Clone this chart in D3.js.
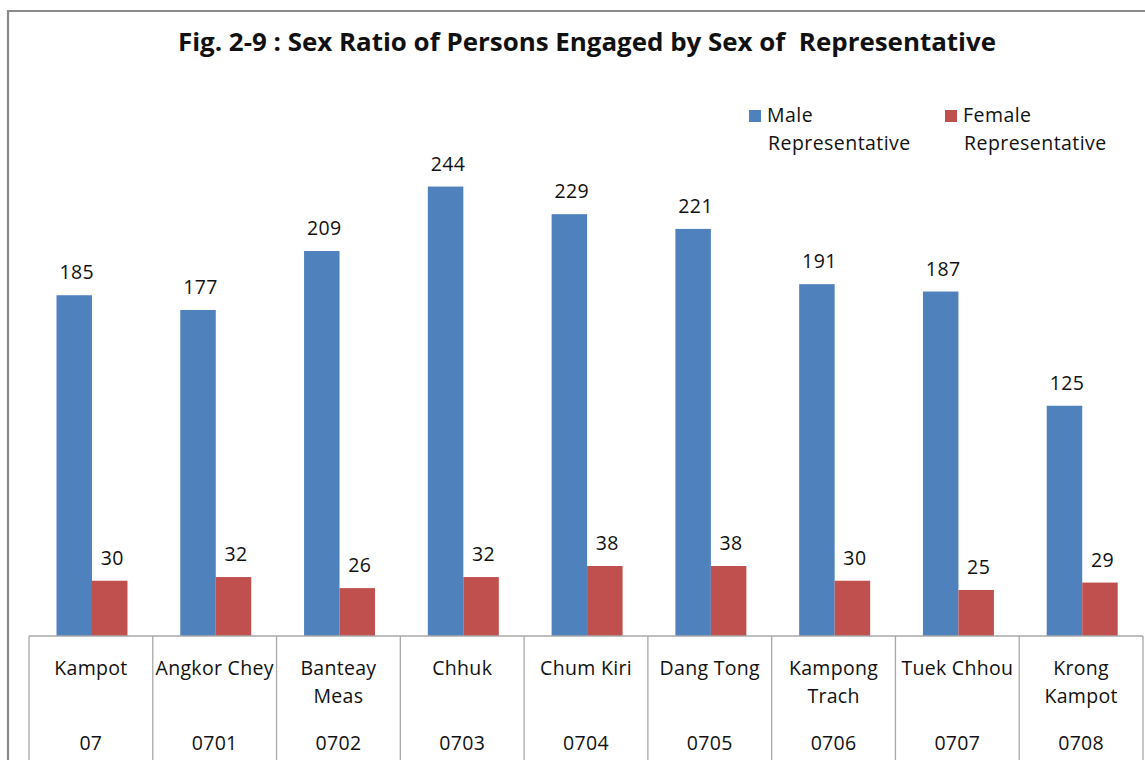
<!DOCTYPE html>
<html>
<head>
<meta charset="utf-8">
<script src="https://cdn.jsdelivr.net/npm/d3@7"></script>
<style>
  html, body { margin: 0; padding: 0; background: #fff; }
  svg { display: block; }
  text { font-family: "Open Sans", "Noto Sans", sans-serif; fill: #111; }
</style>
</head>
<body>
<svg id="chart" width="1145" height="760"></svg>
<script>
const title = "Fig. 2-9 : Sex Ratio of Persons Engaged by Sex of  Representative";
const categories = ["Kampot", "Angkor Chey", "Banteay\nMeas", "Chhuk", "Chum Kiri", "Dang Tong", "Kampong\nTrach", "Tuek Chhou", "Krong\nKampot"];
const codes = ["07", "0701", "0702", "0703", "0704", "0705", "0706", "0707", "0708"];
const seriesNames = ["Male\nRepresentative", "Female\nRepresentative"];
const maleValues = [185, 177, 209, 244, 229, 221, 191, 187, 125];
const femaleValues = [30, 32, 26, 32, 38, 38, 30, 25, 29];
const seriesColors = ["#4F81BD", "#C0504D"];

const svg = d3.select("#chart");
const W = 1145, H = 760;
const baseY = 636;

svg.append("rect").attr("x", 0).attr("y", 0).attr("width", W).attr("height", H).attr("fill", "#fff");

// outer frame
svg.append("path")
  .attr("d", `M8,${H + 5} L8,11 L${W + 5},11`)
  .attr("fill", "none").attr("stroke", "#8a8a8a").attr("stroke-width", 2.2);

// title
svg.append("text")
  .attr("x", 587).attr("y", 51)
  .attr("text-anchor", "middle")
  .attr("font-size", 24.5).attr("font-weight", "bold")
  .attr("textLength", 818).attr("lengthAdjust", "spacingAndGlyphs")
  .attr("xml:space", "preserve")
  .style("white-space", "pre")
  .text(title);

const x0 = d3.scaleBand().domain(d3.range(categories.length)).range([29, 1143]).paddingInner(0).paddingOuter(0);
const bw = x0.bandwidth();
const x1 = d3.scaleBand().domain([0, 1]).range([27.5, bw - 25.3]).padding(0);
const y = d3.scaleLinear().domain([0, 300]).range([baseY, baseY - 300 * 1.842]);

const seriesData = [maleValues, femaleValues];
const flat = [];
seriesData.forEach((vals, s) => vals.forEach((v, i) => flat.push({ s, i, v })));

svg.append("g").selectAll("rect").data(flat).join("rect")
  .attr("x", d => x0(d.i) + x1(d.s))
  .attr("y", d => y(d.v))
  .attr("width", x1.bandwidth())
  .attr("height", d => baseY - y(d.v))
  .attr("fill", d => seriesColors[d.s]);

svg.append("g").selectAll("text").data(flat).join("text")
  .attr("x", d => x0(d.i) + x1(d.s) + x1.bandwidth() / 2 + 2.5)
  .attr("y", d => y(d.v) - 16)
  .attr("text-anchor", "middle")
  .attr("font-size", 19.5)
  .attr("letter-spacing", 0.4)
  .text(d => d.v);

// data table grid
const grid = svg.append("g").attr("stroke", "#a8a8a8").attr("stroke-width", 1.3).attr("fill", "none");
grid.append("line").attr("x1", x0.range()[0]).attr("x2", x0.range()[1]).attr("y1", baseY).attr("y2", baseY);
const bounds = d3.range(categories.length).map(i => x0(i)).concat([x0.range()[1]]);
grid.selectAll("line.v").data(bounds).join("line").attr("class", "v")
  .attr("x1", d => d).attr("x2", d => d).attr("y1", baseY).attr("y2", H);

// category labels
const catG = svg.append("g");
categories.forEach((c, i) => {
  const cx = x0(i) + bw / 2;
  c.split("\n").forEach((line, k) => {
    catG.append("text")
      .attr("x", cx).attr("y", 675 + k * 28)
      .attr("text-anchor", "middle")
      .attr("font-size", 19.5).attr("letter-spacing", 0.3)
      .text(line);
  });
  catG.append("text")
    .attr("x", cx).attr("y", 750)
    .attr("text-anchor", "middle")
    .attr("font-size", 19.5).attr("letter-spacing", 0.3)
    .text(codes[i]);
});

// legend
const legendX = [749, 945];
seriesNames.forEach((name, s) => {
  const g = svg.append("g");
  g.append("rect").attr("x", legendX[s]).attr("y", 110).attr("width", 12).attr("height", 12).attr("fill", seriesColors[s]);
  name.split("\n").forEach((line, k) => {
    g.append("text")
      .attr("x", legendX[s] + (k === 0 ? 18 : 19)).attr("y", 122 + k * 28)
      .attr("font-size", 19.5).attr("letter-spacing", 0.45)
      .text(line);
  });
});
</script>
</body>
</html>
